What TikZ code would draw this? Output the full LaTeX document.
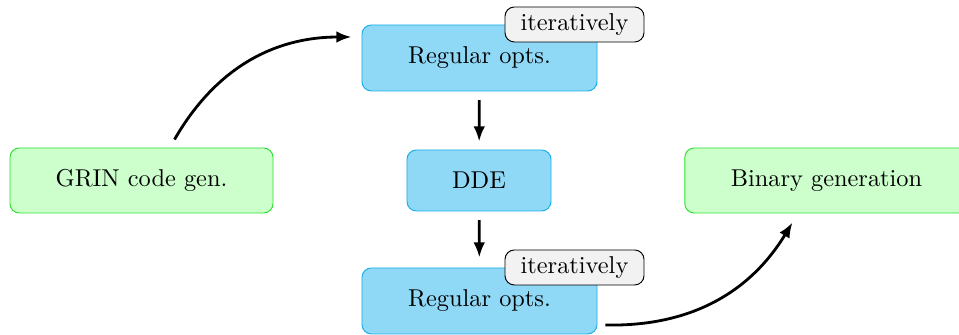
\documentclass[tikz,border=0pt]{standalone}
\usepackage{xcolor}
\usepackage{tikz}
\usetikzlibrary{calc}
\usetikzlibrary{arrows.meta}
\usetikzlibrary{positioning}
\tikzset{>=latex}
\definecolor{passblue}{RGB}{143,216,246}
\definecolor{passline}{RGB}{25,175,232}
\definecolor{stagegreen}{RGB}{204,255,204}
\definecolor{stageline}{RGB}{45,225,45}
\tikzstyle{pass} = [rectangle, rounded corners=4pt, fill=passblue, draw=passline]
\tikzstyle{stage} = [rectangle, rounded corners=4pt, fill=stagegreen, draw=stageline, minimum height=0.975cm]
\tikzstyle{tag} = [rectangle, rounded corners=4pt, fill=gray!10, draw=black, minimum width=2.085cm, minimum height=0.525cm, inner sep=0]
\tikzstyle{flow} = [-{Latex[length=6.5pt, width=5pt]}, very thick]

\begin{document}
\begin{tikzpicture}[x=0.015cm, y=-0.015cm, font=\fontsize{10.4pt}{12pt}\selectfont]
\useasboundingbox (0, 0) rectangle (959, 335);
\node [stage, minimum width=3.945cm] (grin) at (141.5, 180.5) {GRIN code gen.};
\node [pass, minimum width=3.525cm, minimum height=0.99cm] (reg1) at (479.5, 58) {Regular opts.};
\node [tag] (iter1) at (574.5, 24.5) {iteratively};
\node [pass, minimum width=2.16cm, minimum height=0.915cm] (dde) at (479, 180.5) {DDE};
\node [pass, minimum width=3.525cm, minimum height=0.99cm] (reg2) at (479.5, 301) {Regular opts.};
\node [tag] (iter2) at (574.5, 267.5) {iteratively};
\node [stage, minimum width=4.25cm] (bin) at (826.5, 180.5) {Binary generation};
\draw [flow, bend left=30] ($(grin.north)+(33,-8)$) to ($(reg1.west)+(-10,-21)$);
\draw [flow, shorten <=0.13cm, shorten >=0.12cm] (reg1) to (dde);
\draw [flow, shorten <=0.13cm, shorten >=0.15cm] (dde) to (reg2);
\draw [flow, bend right=30] ($(reg2.east)+(8,24)$) to ($(bin.south)+(-34,9)$);
\end{tikzpicture}
\end{document}
